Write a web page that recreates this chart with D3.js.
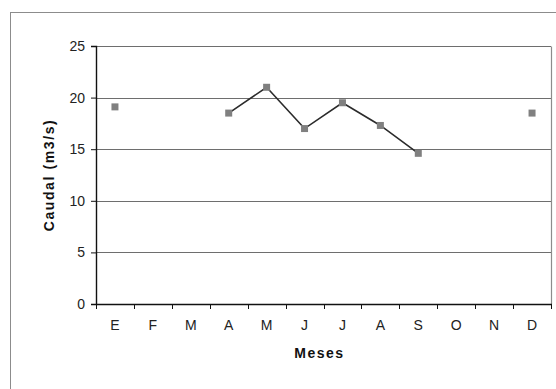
<!DOCTYPE html>
<html>
<head>
<meta charset="utf-8">
<script src="https://cdn.jsdelivr.net/npm/d3@7"></script>
<style>
  html, body { margin: 0; padding: 0; background: #fff; }
  svg { display: block; }
  text { font-family: "Liberation Sans", Arial, sans-serif; }
</style>
</head>
<body>
<svg id="chart" width="556" height="389"></svg>
<script>
// Caudal mensual (m3/s); null = mes sin dato
const meses = ["E", "F", "M", "A", "M", "J", "J", "A", "S", "O", "N", "D"];
const caudal = [19.1, null, null, 18.5, 21.0, 17.0, 19.5, 17.3, 14.6, null, null, 18.5];
const yTicks = [0, 5, 10, 15, 20, 25];

const svg = d3.select("#chart");
const plot = { left: 96, top: 46, right: 551, bottom: 304 };

// Marco exterior
svg.append("rect")
  .attr("x", 10.5).attr("y", 12.5)
  .attr("width", 600).attr("height", 500)
  .attr("fill", "none").attr("stroke", "#8c8c8c").attr("stroke-width", 1);

const data = meses.map((m, i) => ({ i, m, v: caudal[i] }));

const x = d3.scaleBand()
  .domain(d3.range(meses.length))
  .range([plot.left, plot.right])
  .paddingInner(0).paddingOuter(0);

const y = d3.scaleLinear().domain([0, 25]).range([plot.bottom, plot.top]);

// Líneas de cuadrícula horizontales
svg.append("g")
  .selectAll("line")
  .data(yTicks.filter(t => t > 0))
  .join("line")
  .attr("x1", plot.left).attr("x2", plot.right)
  .attr("y1", d => Math.round(y(d)) + 0.5).attr("y2", d => Math.round(y(d)) + 0.5)
  .attr("stroke", "#6e6e6e").attr("stroke-width", 1.2);

// Borde derecho del área de trazado
svg.append("line")
  .attr("x1", plot.right + 0.5).attr("x2", plot.right + 0.5)
  .attr("y1", Math.round(y(25)) + 0.5).attr("y2", plot.bottom)
  .attr("stroke", "#8c8c8c").attr("stroke-width", 1.2);

// Eje Y
const yAxis = svg.append("g")
  .attr("transform", `translate(${plot.left},0)`)
  .call(d3.axisLeft(y).tickValues(yTicks).tickSize(5).tickPadding(6));
yAxis.select(".domain").attr("stroke", "#111").attr("stroke-width", 1.4);
yAxis.selectAll(".tick line").attr("stroke", "#111");
yAxis.selectAll(".tick text")
  .attr("font-size", 14).attr("fill", "#222")
  .style("font-family", "'Liberation Sans', Arial, sans-serif");

// Eje X con marcas en los límites de cada mes
const xAxis = svg.append("g")
  .attr("transform", `translate(0,${plot.bottom})`);
xAxis.append("line")
  .attr("x1", plot.left).attr("x2", plot.right + 1)
  .attr("y1", 0.5).attr("y2", 0.5)
  .attr("stroke", "#111").attr("stroke-width", 1.6);
xAxis.selectAll("line.tk")
  .data(d3.range(meses.length + 1))
  .join("line")
  .attr("class", "tk")
  .attr("x1", i => Math.round(plot.left + i * x.bandwidth()) + 0.5)
  .attr("x2", i => Math.round(plot.left + i * x.bandwidth()) + 0.5)
  .attr("y1", 0).attr("y2", 5)
  .attr("stroke", "#111");
xAxis.selectAll("text")
  .data(data)
  .join("text")
  .attr("x", d => x(d.i) + x.bandwidth() / 2)
  .attr("y", 26)
  .attr("text-anchor", "middle")
  .attr("font-size", 14).attr("fill", "#222")
  .text(d => d.m);

// Serie
const line = d3.line()
  .defined(d => d.v !== null)
  .x(d => x(d.i) + x.bandwidth() / 2)
  .y(d => y(d.v));

svg.append("path")
  .datum(data)
  .attr("d", line)
  .attr("fill", "none")
  .attr("stroke", "#2b2b2b")
  .attr("stroke-width", 1.6);

const ms = 7;
svg.append("g")
  .selectAll("rect")
  .data(data.filter(d => d.v !== null))
  .join("rect")
  .attr("x", d => x(d.i) + x.bandwidth() / 2 - ms / 2)
  .attr("y", d => y(d.v) - ms / 2)
  .attr("width", ms).attr("height", ms)
  .attr("fill", "#808080");

// Títulos de los ejes
svg.append("text")
  .attr("x", (plot.left + plot.right) / 2 - 4)
  .attr("y", 358)
  .attr("text-anchor", "middle")
  .attr("font-size", 14).attr("font-weight", "bold")
  .attr("letter-spacing", 1.5)
  .attr("fill", "#111")
  .text("Meses");

svg.append("text")
  .attr("transform", "translate(54,175) rotate(-90)")
  .attr("text-anchor", "middle")
  .attr("font-size", 14).attr("font-weight", "bold")
  .attr("letter-spacing", 1.6)
  .attr("fill", "#111")
  .text("Caudal (m3/s)");
</script>
</body>
</html>
